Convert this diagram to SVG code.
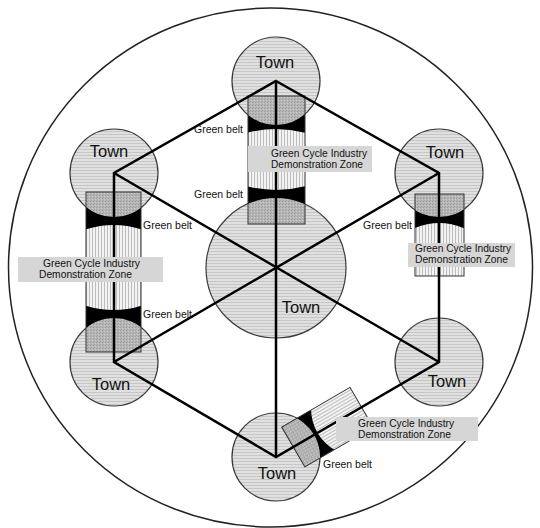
<svg xmlns="http://www.w3.org/2000/svg" width="540" height="528" viewBox="0 0 540 528">
<style>
.town{fill:url(#hz);stroke:#3a3a3a;stroke-width:1.2}
.tl{font-family:"Liberation Sans",Arial,sans-serif;font-size:16.5px;fill:#111;text-anchor:middle}
.zl{font-family:"Liberation Sans",Arial,sans-serif;font-size:10px;fill:#111}
.gb{font-family:"Liberation Sans",Arial,sans-serif;font-size:10.5px;fill:#111}
.box{fill:#d6d6d6}
.zr{fill:none;stroke:#333;stroke-width:1}
.ln{stroke:#000;stroke-width:2.5;fill:none;stroke-linejoin:miter}
</style>
<defs>
<pattern id="hz" width="4" height="3" patternUnits="userSpaceOnUse"><rect width="4" height="3" fill="#e0e0e0"/><rect y="2" width="4" height="1" fill="#c6c6c6"/></pattern>
<pattern id="vt" width="3" height="4" patternUnits="userSpaceOnUse"><rect width="3" height="4" fill="#f3f3f3"/><rect x="2" width="1" height="4" fill="#bcbcbc"/></pattern>
<pattern id="dt" width="3" height="3" patternUnits="userSpaceOnUse"><rect width="3" height="3" fill="#b6b6b6"/><rect width="1" height="1" fill="#989898"/><rect x="2" y="1" width="1" height="1" fill="#cbcbcb"/><rect x="1" y="2" width="1" height="1" fill="#a4a4a4"/></pattern>
<clipPath id="cTop"><rect x="248" y="96" width="57" height="128"/></clipPath>
<clipPath id="cLeft"><rect x="86" y="192" width="55" height="160"/></clipPath>
<clipPath id="cRight"><rect x="415" y="194" width="49" height="82"/></clipPath>
<clipPath id="cBot"><rect x="-23" y="20" width="46" height="79"/></clipPath>
</defs>
<rect width="540" height="528" fill="#fff"/>
<ellipse cx="270.5" cy="267.5" rx="262" ry="259.5" fill="#fff" stroke="#222" stroke-width="1.5"/>

<g id="town-center"><circle class="town" cx="276" cy="268" r="70"/></g>
<g id="town-top"><circle class="town" cx="276" cy="81" r="44"/></g>
<g id="town-topleft"><circle class="town" cx="114" cy="173" r="44"/></g>
<g id="town-topright"><circle class="town" cx="439" cy="173" r="44"/></g>
<g id="town-bottomleft"><circle class="town" cx="114" cy="362" r="44"/></g>
<g id="town-bottomright"><circle class="town" cx="439" cy="362" r="44"/></g>
<g id="town-bottom"><circle class="town" cx="276" cy="457" r="44"/></g>

<g id="zone-top">
<g clip-path="url(#cTop)">
<rect x="248" y="96" width="57" height="128" fill="url(#vt)"/>
<path d="M246,133 Q276,125 306,133 V90 H246 Z" fill="#000"/>
<path d="M246,186 Q276,194 306,186 V230 H246 Z" fill="#000"/>
<circle cx="276" cy="81" r="44" fill="url(#dt)"/>
<circle cx="276" cy="268" r="70" fill="url(#dt)"/>
</g>
<rect class="zr" x="248" y="96" width="57" height="128"/>
</g>
<g id="zone-left">
<g clip-path="url(#cLeft)">
<rect x="86" y="192" width="55" height="160" fill="url(#vt)"/>
<path d="M84,230 Q114,220 143,230 V185 H84 Z" fill="#000"/>
<path d="M84,305 Q114,315 143,305 V360 H84 Z" fill="#000"/>
<circle cx="114" cy="173" r="44" fill="url(#dt)"/>
<circle cx="114" cy="362" r="44" fill="url(#dt)"/>
</g>
<rect class="zr" x="86" y="192" width="55" height="160"/>
</g>
<g id="zone-right">
<g clip-path="url(#cRight)">
<rect x="415" y="194" width="49" height="82" fill="url(#vt)"/>
<path d="M413,229 Q439,217 466,229 V185 H413 Z" fill="#000"/>
<circle cx="439" cy="173" r="44" fill="url(#dt)"/>
</g>
<rect class="zr" x="415" y="194" width="49" height="82"/>
</g>
<g id="zone-bottom" transform="translate(276,457) rotate(-120.2)">
<g clip-path="url(#cBot)">
<rect x="-23" y="20" width="46" height="79" fill="url(#vt)"/>
<path d="M-25,55 Q0,41 25,55 V0 H-25 Z" fill="#000"/>
<circle cx="0" cy="0" r="44" fill="url(#dt)"/>
</g>
<rect class="zr" x="-23" y="20" width="46" height="79"/>
</g>

<g id="connectors">
<polygon class="ln" points="276,81 439,173 439,362 276,457 114,362 114,173"/>
<line class="ln" x1="276" y1="81" x2="276" y2="457"/>
<line class="ln" x1="114" y1="173" x2="439" y2="362"/>
<line class="ln" x1="439" y1="173" x2="114" y2="362"/>
</g>

<g id="label-top">
<rect class="box" x="248" y="146" width="124" height="26"/>
<text class="zl" x="271" y="157" textLength="96" lengthAdjust="spacingAndGlyphs">Green Cycle Industry</text>
<text class="zl" x="271" y="168" textLength="92" lengthAdjust="spacingAndGlyphs">Demonstration Zone</text>
</g>
<g id="label-left">
<rect class="box" x="18" y="257" width="145" height="25"/>
<text class="zl" x="43" y="267" textLength="97" lengthAdjust="spacingAndGlyphs">Green Cycle Industry</text>
<text class="zl" x="39" y="278" textLength="93" lengthAdjust="spacingAndGlyphs">Demonstration Zone</text>
</g>
<g id="label-right">
<rect class="box" x="408" y="243" width="107" height="24"/>
<text class="zl" x="415" y="252" textLength="96" lengthAdjust="spacingAndGlyphs">Green Cycle Industry</text>
<text class="zl" x="415" y="263" textLength="93" lengthAdjust="spacingAndGlyphs">Demonstration Zone</text>
</g>
<g id="label-bottom">
<rect class="box" x="336" y="417" width="142" height="24"/>
<text class="zl" x="358" y="427" textLength="96" lengthAdjust="spacingAndGlyphs">Green Cycle Industry</text>
<text class="zl" x="358" y="438" textLength="93" lengthAdjust="spacingAndGlyphs">Demonstration Zone</text>
</g>

<g id="greenbelt-labels">
<text class="gb" x="243" y="133" text-anchor="end">Green belt</text>
<text class="gb" x="243" y="198" text-anchor="end">Green belt</text>
<text class="gb" x="143" y="229">Green belt</text>
<text class="gb" x="143" y="318">Green belt</text>
<text class="gb" x="412" y="229" text-anchor="end">Green belt</text>
<text class="gb" x="323" y="468">Green belt</text>
</g>

<g id="town-labels">
<text class="tl" x="275" y="68">Town</text>
<text class="tl" x="109" y="157">Town</text>
<text class="tl" x="445" y="158">Town</text>
<text class="tl" x="301" y="313">Town</text>
<text class="tl" x="111" y="390">Town</text>
<text class="tl" x="447" y="387">Town</text>
<text class="tl" x="277" y="479">Town</text>
</g>
</svg>
